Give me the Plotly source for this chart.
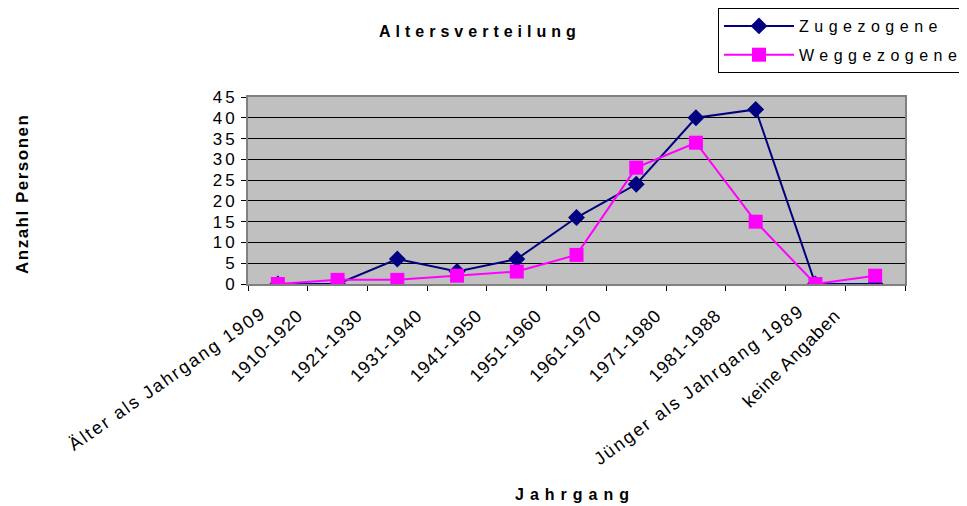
import plotly.graph_objects as go

categories = ["Älter als Jahrgang 1909", "1910-1920", "1921-1930", "1931-1940", "1941-1950",
              "1951-1960", "1961-1970", "1971-1980", "1981-1988", "Jünger als Jahrgang 1989",
              "keine Angaben"]
zugezogene = [0, 0, 6, 3, 6, 16, 24, 40, 42, 0, 0]
weggezogene = [0, 1, 1, 2, 3, 7, 28, 34, 15, 0, 2]
y_ticks = [0, 5, 10, 15, 20, 25, 30, 35, 40, 45]
long_labels = ["Älter als Jahrgang 1909", "Jünger als Jahrgang 1989"]

FONT = "Liberation Sans, Arial, sans-serif"
OFF = 8  # page body margin

def spaced(t, px):
    return f'<span style="letter-spacing:{px}px">{t}</span>'

tick_text = ["" if c in long_labels else spaced(c, 0.8) for c in categories]

fig = go.Figure()
fig.add_trace(go.Scatter(
    x=categories, y=zugezogene, mode="lines+markers", name=spaced("Zugezogene", 5.5),
    legendgroup="z",
    line=dict(color="#000080", width=2),
    marker=dict(symbol="diamond", size=13, color="#000080"),
))
fig.add_trace(go.Scatter(
    x=categories, y=weggezogene, mode="lines+markers", name=spaced("Weggezogene", 5.5),
    legendgroup="w",
    line=dict(color="#FF00FF", width=2),
    marker=dict(symbol="square", size=14, color="#FF00FF"),
))

# plot area in reference pixels: x 248..905, y 97..284
PL, PR, PT, PB = 248, 905, 97, 284
PW, PH = PR - PL, PB - PT
W, H = 967 - OFF, 506 - OFF

annotations = [
    dict(text="<b>" + spaced("Altersverteilung", 5) + "</b>", xref="paper", yref="paper",
         x=(480 - PL) / PW, y=1 + (PT - 32) / PH, showarrow=False,
         font=dict(size=16, family=FONT), xanchor="center", yanchor="middle"),
    dict(text="<b>" + spaced("Jahrgang", 6) + "</b>", xref="paper", yref="paper",
         x=(575 - PL) / PW, y=-(494 - PB) / PH, showarrow=False,
         font=dict(size=16, family=FONT), xanchor="center", yanchor="middle"),
    dict(text="<b>" + spaced("Anzahl Personen", 1.5) + "</b>", xref="paper", yref="paper",
         x=-(PL - 22) / PW, y=1 - (194 - PT) / PH, showarrow=False, textangle=-90,
         font=dict(size=17, family=FONT), xanchor="center", yanchor="middle"),
]
for lab, ang, dx, dy in [(long_labels[0], -35, -6, -16), (long_labels[1], -36.5, -5, -14)]:
    annotations.append(dict(
        text=spaced(lab, 2.0), x=lab, y=0, xref="x", yref="y", showarrow=False,
        textangle=ang, xanchor="right", yanchor="top", xshift=dx, yshift=dy,
        font=dict(size=18, family=FONT, color="black"),
    ))

fig.update_layout(
    width=W, height=H,
    margin=dict(l=PL - OFF, r=W - (PR - OFF), t=PT - OFF, b=H - (PB - OFF), autoexpand=False),
    paper_bgcolor="white", plot_bgcolor="#C0C0C0",
    font=dict(family=FONT, color="black", size=16),
    showlegend=True,
    legend=dict(
        xref="container", yref="container", x=(718 - OFF) / W, y=1.0,
        xanchor="left", yanchor="top",
        bordercolor="black", borderwidth=1, bgcolor="white",
        font=dict(size=16, family=FONT), itemwidth=70,
        traceorder="grouped", tracegroupgap=5,
    ),
    annotations=annotations,
)

fig.update_xaxes(
    type="category", range=[-0.5, 10.5], automargin=False,
    tickmode="array", tickvals=categories, ticktext=tick_text,
    tickangle=-45, tickfont=dict(size=18, family=FONT),
    ticklabelshift=-40, ticklabelstandoff=12,
    ticks="outside", ticklen=5, tickcolor="black", tickson="boundaries",
    showline=True, linecolor="#808080", linewidth=2, mirror=True,
    showgrid=False, zeroline=False,
)
fig.update_yaxes(
    range=[0, 45], tickmode="array", tickvals=y_ticks, automargin=False,
    ticktext=[spaced(str(v), 3) for v in y_ticks],
    tickfont=dict(size=17, family=FONT),
    ticks="outside", ticklen=5, tickcolor="black",
    showline=True, linecolor="#808080", linewidth=2, mirror=True,
    showgrid=True, gridcolor="black", gridwidth=1, zeroline=False,
)

fig.write_html("out.html")
